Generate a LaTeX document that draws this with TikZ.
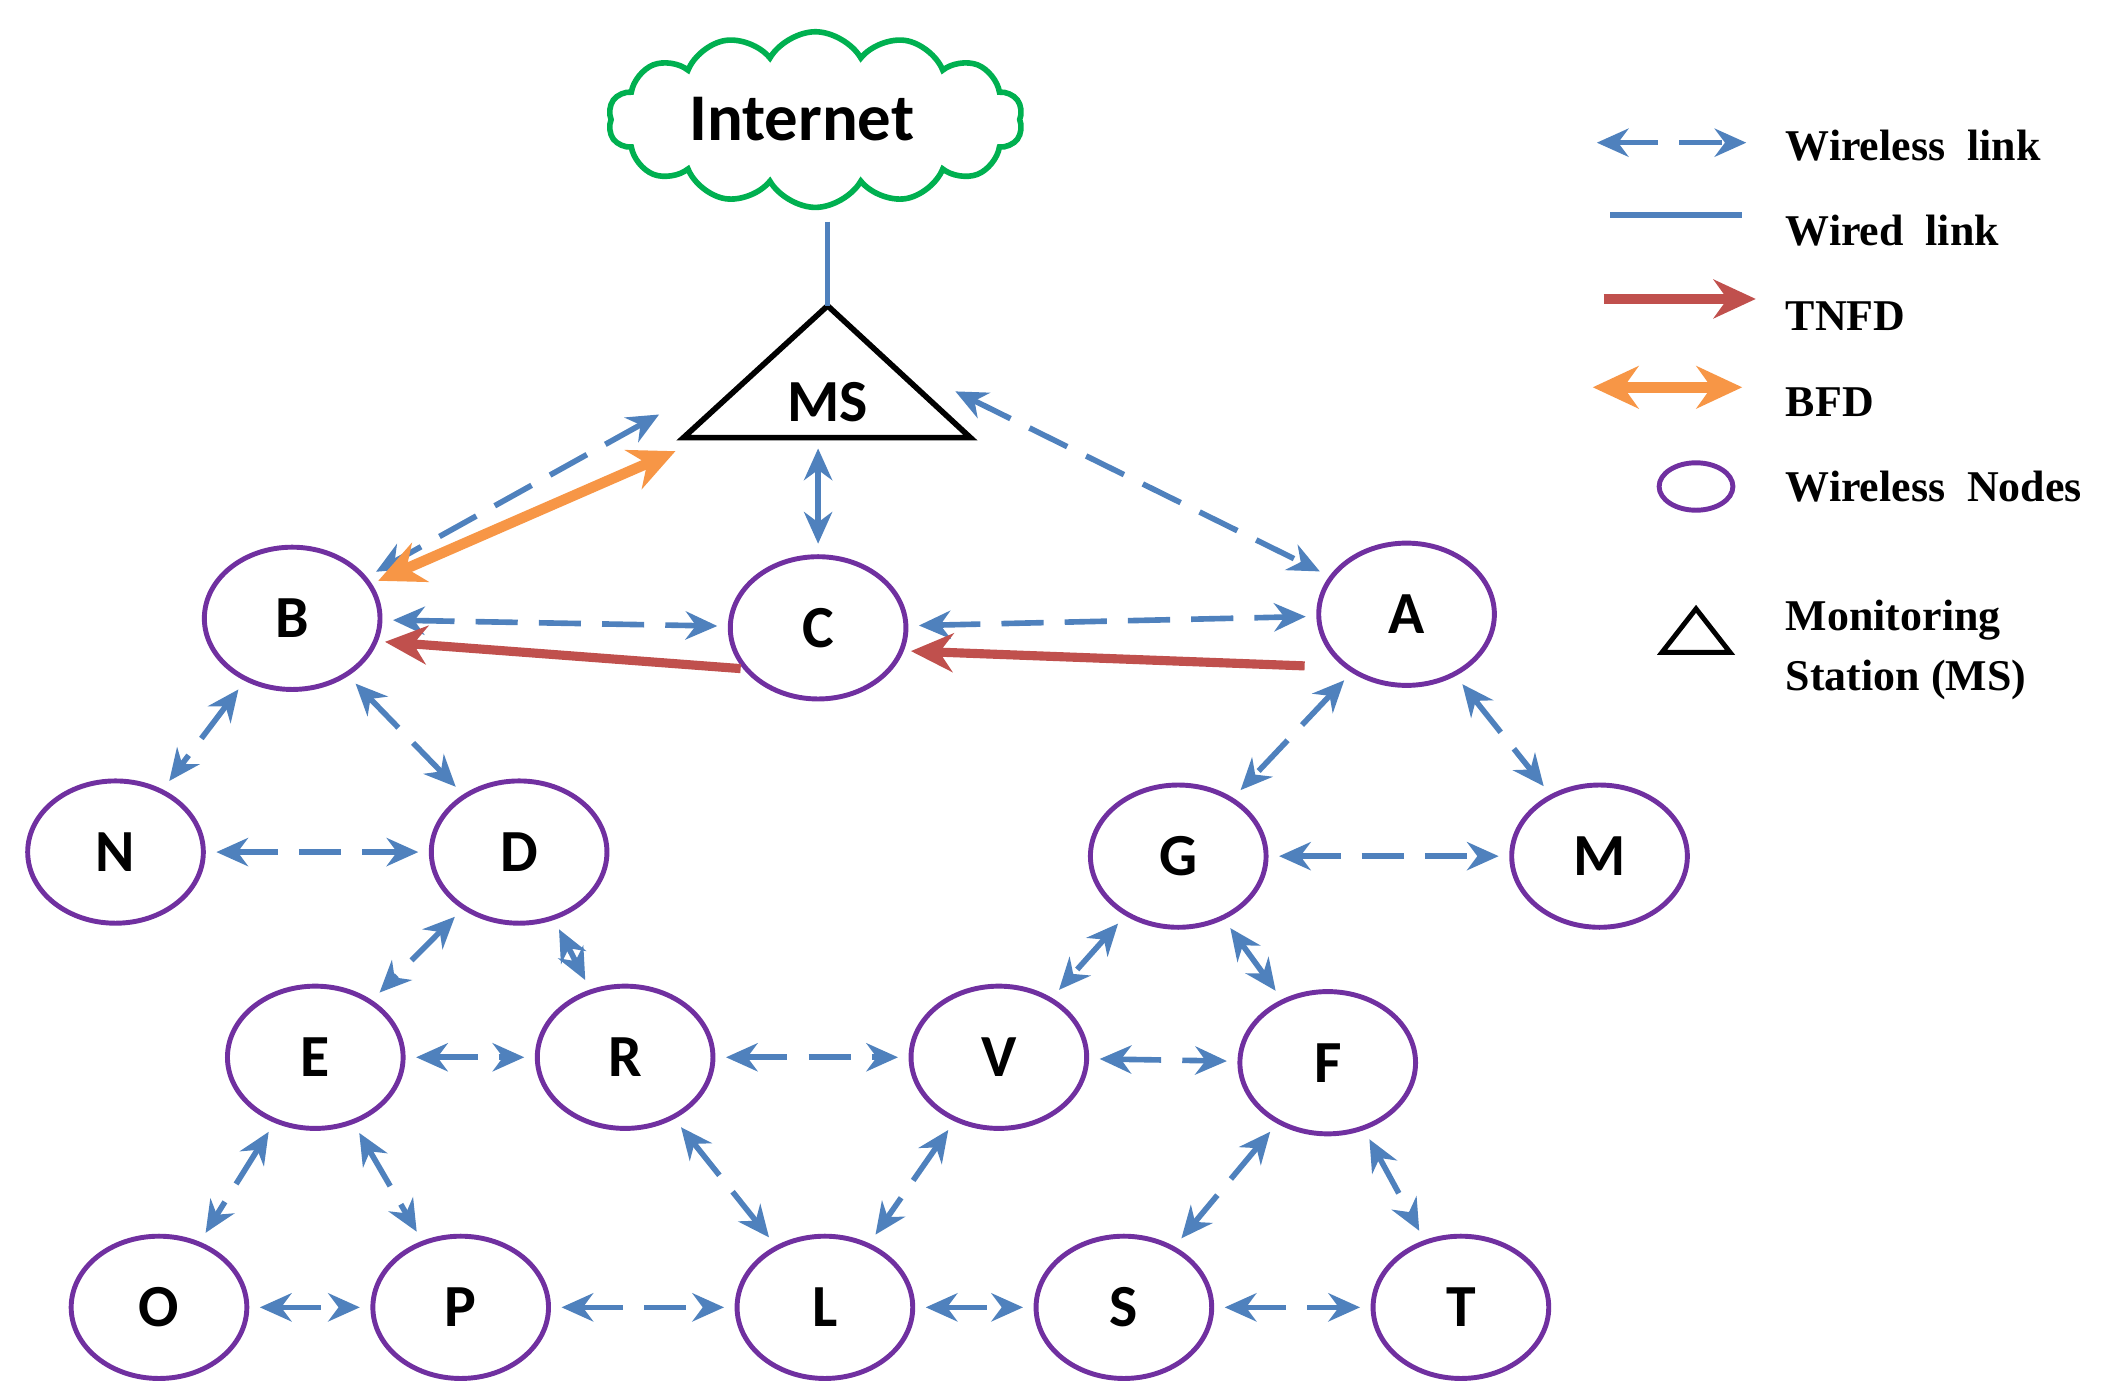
\documentclass[tikz,border=0pt]{standalone}
\usepackage{fontspec}
\setmainfont{Liberation Serif}
\newfontfamily\nodefont{Carlito}
\usetikzlibrary{shapes.symbols,shapes.geometric,arrows.meta,calc}
\definecolor{lblue}{HTML}{4F81BD}
\definecolor{lred}{HTML}{C0504D}
\definecolor{lorange}{HTML}{F79646}
\definecolor{lpurple}{HTML}{7030A0}
\definecolor{lgreen}{HTML}{00B050}
\begin{document}
\begin{tikzpicture}[x=0.01359cm,y=-0.01359cm,
  wn/.style={ellipse,draw=lpurple,line width=1.4pt,minimum width=50pt,minimum height=40.5pt,inner sep=0pt,font=\nodefont\bfseries\fontsize{17}{17}\selectfont},
  wl/.style={draw=lblue,line width=1.6pt,dash pattern=on 12pt off 6pt,{Stealth[length=9pt,width=8pt]}-{Stealth[length=9pt,width=8pt]},shorten <=3pt,shorten >=3pt},
  lg/.style={font=\bfseries\fontsize{12.5}{17}\selectfont,anchor=west,align=left}]
\useasboundingbox (0,0) rectangle (1560,1023);
% cloud
\node[cloud,cloud puffs=14,cloud puff arc=120,aspect=2.3,draw=lgreen,line width=1.6pt,minimum width=118pt,minimum height=50pt,inner sep=0pt] (inet) at (600,88) {};
\node[font=\nodefont\bfseries\fontsize{19}{19}\selectfont] (inettxt) at (590,88) {Internet};
% MS triangle
\coordinate (msapex) at (609,225);
\draw[line width=1.6pt] (609,225) -- (503,322) -- (714,322) -- cycle;
\node[font=\nodefont\bfseries\fontsize{17}{17}\selectfont] (ms) at (609,296) {MS};
\coordinate (inetb) at (609,163);
\draw[lblue,line width=1.6pt] (inetb) -- (msapex);
\coordinate (msl) at (485,305);
\coordinate (msl2) at (497,332);
\coordinate (msr) at (703,288);
\coordinate (msb) at (602,330);
% nodes
\node[wn] (B) at (215,455) {B};
\node[wn] (C) at (602,462) {C};
\node[wn] (A) at (1035,452) {A};
\node[wn] (N) at (85,627) {N};
\node[wn] (D) at (382,627) {D};
\node[wn] (G) at (867,630) {G};
\node[wn] (M) at (1177,630) {M};
\node[wn] (E) at (232,778) {E};
\node[wn] (R) at (460,778) {R};
\node[wn] (V) at (735,778) {V};
\node[wn] (F) at (977,782) {F};
\node[wn] (O) at (117,962) {O};
\node[wn] (P) at (339,962) {P};
\node[wn] (L) at (607,962) {L};
\node[wn] (S) at (827,962) {S};
\node[wn] (T) at (1075,962) {T};
% links
\draw[wl,shorten <=0pt] (msl) -- (B);
\draw[wl,shorten <=0pt] (msr) -- (A);
\draw[lblue,line width=1.6pt,{Stealth[length=9pt,width=8pt]}-{Stealth[length=9pt,width=8pt]},shorten >=3pt] (msb) -- (C);
\draw[lorange,line width=3pt,{Stealth[length=13pt,width=12pt]}-{Stealth[length=13pt,width=12pt]},shorten >=2pt] (msl2) -- (B);
\draw[wl] (B) -- (C);
\draw[wl] (C) -- (A);
\coordinate (ra) at (960,490);
\coordinate (rc) at (545,492);
\draw[lred,line width=2.6pt,-{Stealth[length=12pt,width=11pt]},shorten >=2pt] (ra) -- (C.-15);
\draw[lred,line width=2.6pt,-{Stealth[length=12pt,width=11pt]},shorten >=2pt] (rc) -- (B.-15);
\foreach \a/\b in {B/N,B/D,N/D,D/E,D/R,E/R,R/V,V/F,G/V,G/F,A/G,A/M,G/M,E/O,E/P,R/L,V/L,F/S,F/T,O/P,P/L,L/S,S/T}
  \draw[wl] (\a) -- (\b);
% legend
\coordinate (l1a) at (1175,105); \coordinate (l1b) at (1285,105);
\draw[wl,shorten <=0pt,shorten >=0pt] (l1a) -- (l1b);
\node[lg] (t1) at (1305,107) {Wireless\ \ link};
\coordinate (l2a) at (1185,158); \coordinate (l2b) at (1282,158);
\draw[lblue,line width=1.6pt] (l2a) -- (l2b);
\node[lg] (t2) at (1305,170) {Wired\ \ link};
\coordinate (l3a) at (1180,220); \coordinate (l3b) at (1292,220);
\draw[lred,line width=2.6pt,-{Stealth[length=12pt,width=11pt]}] (l3a) -- (l3b);
\node[lg] (t3) at (1305,233) {TNFD};
\coordinate (l4a) at (1172,285); \coordinate (l4b) at (1282,285);
\draw[lorange,line width=3pt,{Stealth[length=13pt,width=12pt]}-{Stealth[length=13pt,width=12pt]}] (l4a) -- (l4b);
\node[lg] (t4) at (1305,296) {BFD};
\node[ellipse,draw=lpurple,line width=1.4pt,minimum width=21pt,minimum height=13.5pt] (le) at (1248,358) {};
\node[lg] (t5) at (1305,358) {Wireless\ \ Nodes};
\draw[line width=1.4pt] (1248,448) -- (1223,480) -- (1273,480) -- cycle;
\node[lg] (t6) at (1305,478) {Monitoring\\Station (MS)};
\end{tikzpicture}
\end{document}
